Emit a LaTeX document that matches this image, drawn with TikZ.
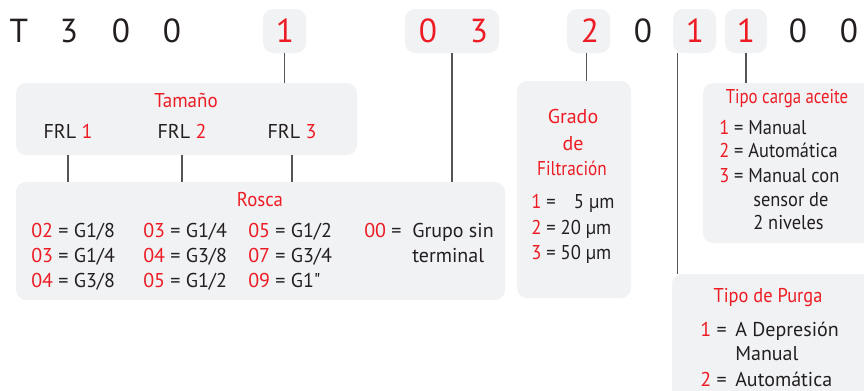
\documentclass[tikz,border=0pt]{standalone}
\usepackage{fontspec}
\setmainfont{PT Sans}
\newfontfamily\plainfont{PT Sans}[Ligatures=TeXOff]
\usetikzlibrary{fit}
\definecolor{rd}{RGB}{237,28,36}
\definecolor{bx}{RGB}{241,242,244}
\definecolor{tx}{RGB}{35,31,32}
\definecolor{ln}{RGB}{85,85,85}
\newcommand{\R}[1]{\textcolor{rd}{#1}}
\newcommand{\sqz}[2]{\scalebox{#1}[1]{#2}}
\begin{document}
\begin{tikzpicture}[x=0.75pt,y=-0.75pt,
  panel/.style={fill=bx, draw=none, rounded corners=7.5pt, inner sep=0pt, outer sep=0pt},
  big/.style={font=\fontsize{25}{30}\selectfont, text=tx, inner sep=0pt, anchor=base},
  bigred/.style={big, text=rd},
  txt/.style={font=\fontsize{15}{18}\selectfont, text=tx, inner sep=0pt, anchor=base west},
  ttl/.style={font=\fontsize{15}{18}\selectfont, text=rd, inner sep=0pt, anchor=base},
  conn/.style={draw=ln, line width=1pt}]
\useasboundingbox (0,0) rectangle (864,390);
\clip (0,0) rectangle (864,390);
% code boxes
\node[panel, fit={(263,9) (306,53)}] (c1) {};
\node[panel, fit={(405,9) (499,53)}] (c03) {};
\node[panel, fit={(567,9) (610,53)}] (c2) {};
\node[panel, fit={(673,9) (716,53)}] (cp) {};
\node[panel, fit={(725,9) (767,53)}] (cc) {};
% top row characters
\node[big] (kT) at (19,42) {T};
\node[big] (k3) at (69,42) {3};
\node[big] (k0a) at (121,42) {0};
\node[big] (k0b) at (172,42) {0};
\node[bigred] (k1) at (285,42) {1};
\node[bigred] (k0c) at (428,42) {0};
\node[bigred] (k3b) at (479,42) {3};
\node[bigred] (k2) at (590,42) {2};
\node[big] (k0d) at (643,42) {0};
\node[bigred] (k1b) at (695,42) {1};
\node[bigred] (k1c) at (746,42) {1};
\node[big] (k0e) at (798,42) {0};
\node[big] (k0f) at (849,42) {0};
% info panels
\node[panel, fit={(16,83) (357,155)}] (tam) {};
\node[panel, fit={(16,182) (505,300)}] (rosca) {};
\node[panel, fit={(517,81) (631,298)}] (grado) {};
\node[panel, fit={(703,83) (890,243)}] (carga) {};
\node[panel, fit={(672,274) (890,420)}] (purga) {};
% Tamano
\node[ttl] (tamt) at (186,107) {\sqz{0.95}{Tamaño}};
\node[txt, anchor=base] (frl1) at (68,138) {FRL \R{1}};
\node[txt, anchor=base] (frl2) at (182,138) {FRL \R{2}};
\node[txt, anchor=base] (frl3) at (292,138) {FRL \R{3}};
% Rosca
\node[ttl] (roscat) at (260,206) {\sqz{0.94}{Rosca}};
\node[txt] (r11) at (31,237) {\R{02} = G1/8};
\node[txt] (r21) at (31,262) {\R{03} = G1/4};
\node[txt] (r31) at (31,287) {\R{04} = G3/8};
\node[txt] (r12) at (143,237) {\R{03} = G1/4};
\node[txt] (r22) at (143,262) {\R{04} = G3/8};
\node[txt] (r32) at (143,287) {\R{05} = G1/2};
\node[txt] (r13) at (248,237) {\R{05} = G1/2};
\node[txt] (r23) at (248,262) {\R{07} = G3/4};
\node[txt] (r33) at (248,287) {\R{09} = G1{\plainfont"}};
\node[txt] (r14) at (364,237) {\R{00} =};
\node[txt] (r14b) at (412,237) {Grupo sin};
\node[txt] (r24b) at (412,262) {terminal};
% Grado
\node[ttl] (g1) at (573,123) {Grado};
\node[ttl] (g2) at (573,150) {de};
\node[ttl] (g3) at (572,175) {\sqz{0.86}{Filtración}};
\node[txt] (gr1) at (531,208) {\sqz{0.93}{\R{1} = \phantom{0}\,5 µm}};
\node[txt] (gr2) at (531,234) {\sqz{0.93}{\R{2} = 20 µm}};
\node[txt] (gr3) at (531,259) {\sqz{0.93}{\R{3} = 50 µm}};
% Tipo carga aceite
\node[ttl] (ct) at (787,103) {\sqz{0.84}{Tipo carga aceite}};
\node[txt] (cr1) at (719,134) {\sqz{0.92}{\R{1} = Manual}};
\node[txt] (cr2) at (719,157) {\sqz{0.92}{\R{2} = Automática}};
\node[txt] (cr3) at (719,182) {\sqz{0.92}{\R{3} = Manual con}};
\node[txt] (cr4) at (753,206) {\sqz{0.92}{sensor de}};
\node[txt] (cr5) at (753,229) {\sqz{0.92}{2 niveles}};
% Tipo de Purga
\node[ttl] (pt) at (768,302) {\sqz{0.92}{Tipo de Purga}};
\node[txt] (pr1) at (700,336) {\R{1} =};
\node[txt] (pr1b) at (735,336) {A Depresión};
\node[txt] (pr2b) at (735,360) {Manual};
\node[txt] (pr3) at (700,386) {\R{2} =};
\node[txt] (pr3b) at (735,386) {Automática};
% connectors
\coordinate (c2b) at ([xshift=-1.5pt]c2.south);
\coordinate (cpb) at ([xshift=3.4pt]cp.south west);
\draw[conn] (c1.south) -- (tam.north -| c1.south);
\draw[conn] (tam.south -| frl1) -- (rosca.north -| frl1);
\draw[conn] (tam.south -| frl2) -- (rosca.north -| frl2);
\draw[conn] (tam.south -| frl3) -- (rosca.north -| frl3);
\draw[conn] (c03.south) -- (rosca.north -| c03.south);
\draw[conn] (c2b) -- (grado.north -| c2b);
\draw[conn] (cpb) -- (purga.north -| cpb);
\draw[conn] (cc.south) -- (carga.north -| cc.south);
\end{tikzpicture}
\end{document}
